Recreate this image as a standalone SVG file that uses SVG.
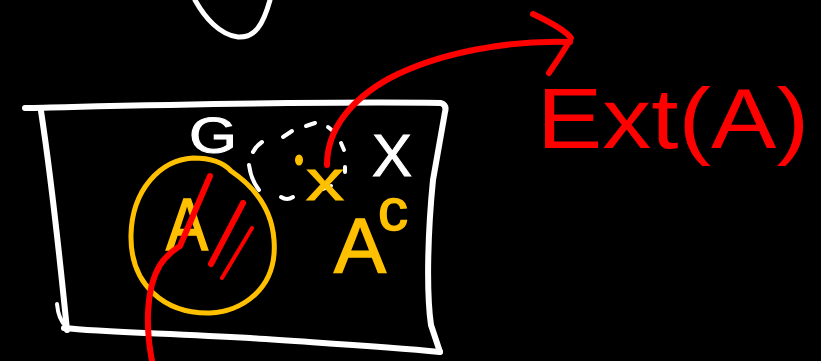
<svg xmlns="http://www.w3.org/2000/svg" width="821" height="361" viewBox="0 0 821 361">
  <defs>
    <style>
      .ink { fill: none; stroke-linecap: round; stroke-linejoin: round; }
      .white { stroke: #ffffff; }
      .gold { stroke: #ffc000; }
      .red { stroke: #ff0000; }
      .hand { font-family: "Liberation Sans", "DejaVu Sans", sans-serif; }
      .t-white { fill: #ffffff; }
      .t-gold { fill: #ffc000; }
      .t-red { fill: #ff0000; }
    </style>
  </defs>

  <rect x="0" y="0" width="821" height="361" fill="#000000"/>

  <!-- bottom of a shape cut off at the top edge -->
  <g id="top-curve">
    <path class="ink white" stroke-width="5" d="M195,0 C205,18 220,35 238,37 C255,38 263,25 270,0"/>
  </g>

  <!-- the space X -->
  <g id="space-X">
    <path class="ink white" stroke-width="6" d="M25,108 C120,106 300,101 441,103 Q447,105 445,112 L433,180 C428,230 426,290 431,325 L440,352"/>
    <path class="ink white" stroke-width="6" d="M440,352 C380,346 320,343 250,338 C160,333 100,332 64,328"/>
    <path class="ink white" stroke-width="6" d="M41,111 C50,170 60,260 67,330"/>
    <path class="ink white" stroke-width="4" d="M57,304 C58,315 61,322 66,326"/>
    <text class="hand t-white" x="372" y="176" font-size="60" stroke="#ffffff" stroke-width="1">X</text>
  </g>

  <!-- open set G around the point -->
  <g id="set-G">
    <text class="hand t-white" x="189" y="153" font-size="50" textLength="48" lengthAdjust="spacingAndGlyphs" stroke="#ffffff" stroke-width="1">G</text>
    <g class="ink white" stroke-width="4">
      <path d="M253,152 Q256,146 262,142"/>
      <path d="M283,137 L292,131"/>
      <path d="M306,126 L315,123"/>
      <path d="M328,127 L333,131"/>
      <path d="M341,143 L344,150"/>
      <path d="M345,167 L345,172"/>
      <path d="M249,165 Q251,180 259,190"/>
      <path d="M281,197 Q287,201 293,197"/>
      <path d="M323,189 L331,186"/>
    </g>
  </g>

  <!-- the set A -->
  <g id="set-A">
    <path class="ink gold" stroke-width="5" d="M193,158 C212,158 224,163 231,171 C256,188 272,210 274,240 C278,290 240,312 210,313 C165,314 130,285 131,235 C132,190 160,160 193,158 Z"/>
    <text class="hand t-gold" x="166" y="250" font-size="74" textLength="42" lengthAdjust="spacingAndGlyphs" stroke="#ffc000" stroke-width="1.5">A</text>
  </g>

  <!-- complement label A with superscript c -->
  <g id="complement">
    <text class="hand t-gold" x="334" y="273" font-size="78" stroke="#ffc000" stroke-width="1.5">A<tspan dx="-8" dy="-43" font-size="60">c</tspan></text>
  </g>

  <!-- point x -->
  <g id="point-x">
    <ellipse cx="299" cy="160" rx="4" ry="5.5" fill="#ffc000"/>
    <text class="hand t-gold" x="306" y="200" font-size="58" textLength="38" lengthAdjust="spacingAndGlyphs" stroke="#ffc000" stroke-width="1">x</text>
  </g>

  <!-- exterior label -->
  <g id="label-ext">
    <text class="hand t-red" x="537" y="148" font-size="86" textLength="272" lengthAdjust="spacingAndGlyphs">Ext(A)</text>
  </g>

  <!-- red strokes: arrow to the label, and marks across A -->
  <g id="connectors">
    <path class="ink red" stroke-width="6" d="M327,165 C327,130 350,100 390,78 C440,52 510,40 570,42"/>
    <path class="ink red" stroke-width="6" d="M533,14 C550,22 565,30 571,38 C565,50 556,62 549,73"/>
    <path class="ink red" stroke-width="6" d="M152,361 C146,330 145,290 160,265 C167,254 174,250 180,246 L210,176"/>
    <path class="ink red" stroke-width="6" d="M243,203 L211,264"/>
    <path class="ink red" stroke-width="4" d="M252,228 L222,278"/>
  </g>
</svg>
